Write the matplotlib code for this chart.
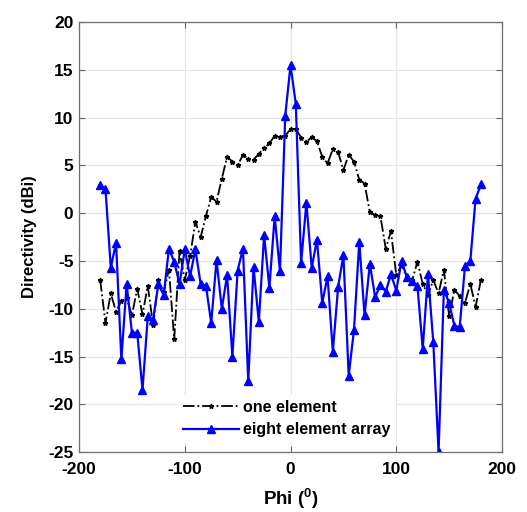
import numpy as np
import matplotlib
matplotlib.use("Agg")
import matplotlib.pyplot as plt

plt.rcParams['font.family'] = ['Liberation Sans', 'DejaVu Sans']
plt.rcParams['mathtext.fontset'] = 'custom'
plt.rcParams['mathtext.bf'] = 'Liberation Sans:bold'
plt.rcParams['mathtext.rm'] = 'Liberation Sans:bold'
plt.rcParams['axes.unicode_minus'] = False

phi = list(range(-180, 181, 5))

one_element = [
    -7.0, -11.5, -8.4, -10.3, -9.2, -8.9, -10.7, -7.9, -10.6, -7.6,
    -11.7, -7.0, -8.3, -5.9, -13.2, -4.0, -7.0, -4.5, -0.9, -2.5,
    -0.3, 1.7, 1.2, 3.6, 5.9, 5.4, 5.0, 6.1, 5.7, 5.6,
    6.2, 6.8, 7.3, 8.1, 8.0, 8.1, 8.8, 8.8, 7.9, 7.4,
    8.0, 7.5, 5.9, 5.2, 6.7, 6.4, 4.5, 6.1, 5.4, 3.5,
    3.1, 0.1, -0.2, -0.3, -3.7, -1.9, -6.5, -5.4, -6.7, -7.0,
    -5.1, -7.4, -8.6, -7.0, -8.4, -5.9, -10.8, -8.0, -8.7, -9.4,
    -7.4, -9.8, -7.0,
]

eight_element = [
    2.9, 2.5, -5.7, -3.1, -15.3, -7.4, -12.5, -12.5, -18.5, -10.8,
    -11.2, -7.4, -8.6, -3.7, -5.1, -7.4, -3.8, -6.6, -3.8, -7.4,
    -7.6, -11.5, -4.9, -10.0, -6.5, -15.0, -6.0, -3.7, -17.6, -5.6,
    -11.4, -2.3, -7.8, -0.3, -6.1, 10.2, 15.5, 11.4, -5.2, 1.1,
    -5.7, -2.8, -9.4, -6.6, -14.5, -7.7, -4.4, -17.0, -12.2, -3.0,
    -10.7, -5.3, -8.8, -7.5, -8.2, -6.4, -8.1, -5.0, -6.7, -7.1,
    -7.6, -14.2, -6.4, -13.5, -25.0, -8.0, -9.4, -11.8, -11.9, -5.5,
    -5.0, 1.5, 3.0,
]

x_ticks = [-200, -100, 0, 100, 200]
y_ticks = [-25, -20, -15, -10, -5, 0, 5, 10, 15, 20]

fig = plt.figure(figsize=(5.27, 5.12), dpi=100)
ax = fig.add_axes([0.150, 0.117, 0.8026, 0.840])

ax.plot(phi, one_element, color='black', linestyle='-.', linewidth=1.3,
        marker='*', markersize=3.5, label='one element')
ax.plot(phi, eight_element, color='blue', linestyle='-', linewidth=1.6,
        marker='^', markersize=6, label='eight element array')

ax.set_xlim(-200, 200)
ax.set_ylim(-25, 20)
ax.set_xticks(x_ticks)
ax.set_yticks(y_ticks)
ax.grid(True, color='#e6e6e6', linewidth=0.9)
ax.set_axisbelow(True)
ax.tick_params(direction='in', length=4, color='#666666', labelsize=12.5,
               top=True, right=True)
ax.tick_params(axis='x', pad=7)
ax.tick_params(axis='y', pad=4)
for lab in ax.get_xticklabels() + ax.get_yticklabels():
    lab.set_fontweight('bold')
for s in ax.spines.values():
    s.set_color('#707070')
    s.set_linewidth(0.9)

ax.set_xlabel(r'Phi ($^{\mathbf{0}}$)', fontsize=13.5, fontweight='bold')
ax.xaxis.set_label_coords(0.5, -0.08)
ax.set_ylabel('Directivity (dBi)', fontsize=12, fontweight='bold')
ax.yaxis.set_label_coords(-0.10, 0.5)

leg = ax.legend(loc='lower left', bbox_to_anchor=(0.215, 0.005), frameon=True,
                prop={'weight': 'bold', 'size': 11.5}, handlelength=3.5,
                borderpad=0.3, labelspacing=0.45, handletextpad=0.3)
leg.get_frame().set_edgecolor('none')
leg.get_frame().set_facecolor('white')
leg.get_frame().set_alpha(1.0)

fig.savefig('out.png', dpi=100)
